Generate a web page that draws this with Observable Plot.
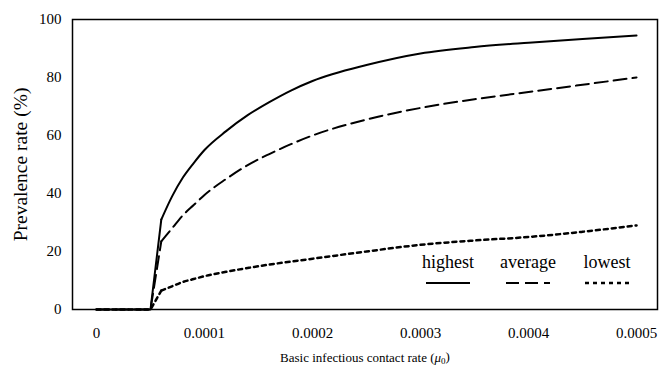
<!DOCTYPE html>
<html><head><meta charset="utf-8">
<script src="https://cdn.jsdelivr.net/npm/d3@7"></script>
<script src="https://cdn.jsdelivr.net/npm/@observablehq/plot@0.6"></script>
<style>
body{margin:0;background:#fff;}
#chart svg{display:block;}
#chart svg text{font-family:'Liberation Serif','Times New Roman',serif;}
</style></head><body><div id="chart"></div>
<script>
const contactRate = [0, 0.00005, 0.00006, 0.00007, 0.00008, 0.00009, 0.0001, 0.00012, 0.00014, 0.00016, 0.00018, 0.0002, 0.00025, 0.0003, 0.00035, 0.0004, 0.00045, 0.0005];
const highest = [0, 0, 31, 39, 45.5, 50.5, 55, 61.5, 67, 71.5, 75.5, 78.8, 84.3, 88.3, 90.5, 92, 93.3, 94.5];
const average = [0, 0, 23.5, 28, 32.5, 36, 39.5, 45, 49.8, 53.6, 57, 60, 65.5, 69.5, 72.5, 75, 77.5, 80];
const lowest  = [0, 0, 6.5, 8, 9.5, 10.5, 11.5, 13, 14.3, 15.5, 16.5, 17.5, 20, 22.3, 23.8, 25, 26.8, 29];
const seriesNames = ["highest", "average", "lowest"];
const xTicks = [0, 0.0001, 0.0002, 0.0003, 0.0004, 0.0005];
const yTicks = [0, 20, 40, 60, 80, 100];
const xTitle = "Basic infectious contact rate (μ₀)";
const yTitle = "Prevalence rate (%)";

const seriesValues = {highest, average, lowest};
const rows = [];
seriesNames.forEach(s => contactRate.forEach((x, j) => rows.push({series: s, x, y: seriesValues[s][j]})));
const onset = contactRate[2];

const dash = {highest: null, average: "13,6", lowest: "4,4"};
const widthBy = {highest: 2, average: 2, lowest: 2.5};
const font = "'Liberation Serif', 'Times New Roman', serif";

const plot = Plot.plot({
  width: 661, height: 369,
  marginLeft: 72, marginRight: 4, marginTop: 19, marginBottom: 60,
  style: {fontFamily: font, fontSize: "15px", background: "#fff", color: "#000"},
  x: {domain: [-0.0000222, 0.0005194], label: null},
  y: {domain: [0, 100], label: null},
  marks: [
    Plot.axisX(xTicks, {tickFormat: d => d === 0 ? "0" : d.toFixed(4), tickSize: 0, tickPadding: 18, fontSize: 15, label: null, fontFamily: font}),
    Plot.axisY(yTicks, {tickSize: 0, tickPadding: 11, fontSize: 15, label: null, fontFamily: font}),
    // onset segment (sharp corner), then smooth saturating part
    ...seriesNames.map(s => Plot.line(rows.filter(r => r.series === s && r.x <= onset), {
      x: "x", y: "y", stroke: "#000", strokeWidth: widthBy[s], strokeDasharray: dash[s]
    })),
    ...seriesNames.map(s => Plot.line(rows.filter(r => r.series === s && r.x >= onset), {
      x: "x", y: "y", curve: "monotone-x", stroke: "#000", strokeWidth: widthBy[s], strokeDasharray: dash[s]
    })),
    Plot.frame({stroke: "#000", strokeWidth: 1.5}),
    Plot.text([xTitle], {frameAnchor: "bottom", dy: 52, fontSize: 13, text: d => d, fontFamily: font}),
    Plot.text([yTitle], {frameAnchor: "left", textAnchor: "middle", dx: -52, rotate: -90, fontSize: 19.5, text: d => d, fontFamily: font})
  ]
});
document.getElementById("chart").appendChild(plot);

// subscript / italic mu in x title
const svg = d3.select(plot);
svg.selectAll("text").filter(function(){ return this.textContent === xTitle; }).each(function(){
  const t = d3.select(this);
  t.text(null);
  t.append("tspan").text("Basic infectious contact rate (");
  t.append("tspan").attr("font-style", "italic").text("μ");
  t.append("tspan").attr("font-size", "9px").attr("dy", "0.25em").text("0");
  t.append("tspan").attr("dy", "-0.25em").text(")");
});

// legend (inside plot, lower right)
const lg = svg.append("g").attr("font-family", font).attr("font-size", 18).attr("text-anchor", "middle");
const lx = [448, 528, 607];
seriesNames.forEach((s, i) => {
  lg.append("text").attr("x", lx[i]).attr("y", 268).text(s);
  lg.append("line").attr("x1", lx[i] - 22).attr("x2", lx[i] + 22).attr("y1", 283).attr("y2", 283)
    .attr("stroke", "#000").attr("stroke-width", widthBy[s]).attr("stroke-dasharray", dash[s]);
});
</script></body></html>
